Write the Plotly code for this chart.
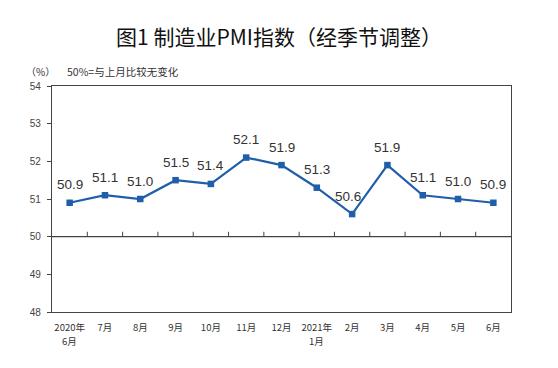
import plotly.graph_objects as go

months = ["2020年", "7月", "8月", "9月", "10月", "11月", "12月",
          "2021年", "2月", "3月", "4月", "5月", "6月"]
month_line2 = ["6月", "", "", "", "", "", "", "1月", "", "", "", "", ""]
pmi = [50.9, 51.1, 51.0, 51.5, 51.4, 52.1, 51.9, 51.3, 50.6, 51.9, 51.1, 51.0, 50.9]
label_xshift = [0, 0, 0, 0, 0, 0, 0, 0, -4, 0, 0, 0, 0]
y_ticks = [48, 49, 50, 51, 52, 53, 54]

LINE = "#1f5ea8"
AXIS = "#444444"
CJK = "Noto Sans CJK SC"

fig = go.Figure()
fig.add_trace(go.Scatter(
    x=list(range(len(months))), y=pmi,
    mode="lines+markers",
    line=dict(color=LINE, width=2.2),
    marker=dict(symbol="square", size=6.5, color=LINE),
    cliponaxis=False,
    hoverinfo="skip",
))

# baseline at 50 with inward ticks on category boundaries
fig.add_shape(type="line", xref="x", yref="y", x0=-0.5, x1=len(months) - 0.5,
              y0=50, y1=50, line=dict(color=AXIS, width=1.2))
for i in range(1, len(months)):
    fig.add_shape(type="line", xref="x", yref="y", x0=i - 0.5, x1=i - 0.5,
                  y0=50, y1=50.13, line=dict(color=AXIS, width=1))

annotations = [
    dict(x=i, y=v, xref="x", yref="y", text=f"{v:.1f}", showarrow=False,
         yshift=18, xshift=label_xshift[i], xanchor="center", yanchor="middle",
         font=dict(family="Liberation Sans, Arial", size=13.5, color="#333333"))
    for i, v in enumerate(pmi)
]
annotations += [
    dict(x=i, y=0, xref="x", yref="paper", text=t, showarrow=False,
         yshift=-29, xanchor="center", yanchor="middle",
         font=dict(family=CJK, size=9.5, color="#333333"))
    for i, t in enumerate(month_line2) if t
]
annotations += [
    dict(text="（%）", xref="paper", yref="paper", x=-0.062, y=1.062,
         xanchor="left", yanchor="middle", showarrow=False,
         font=dict(family=CJK, size=10, color="#333333")),
    dict(text="50%=与上月比较无变化", xref="paper", yref="paper", x=0.028, y=1.062,
         xanchor="left", yanchor="middle", showarrow=False,
         font=dict(family=CJK, size=10.5, color="#333333")),
]

fig.update_layout(
    width=558, height=368,
    margin=dict(l=52, r=47, t=86, b=56),
    paper_bgcolor="white", plot_bgcolor="white",
    showlegend=False,
    title=dict(text="图1 制造业PMI指数（经季节调整）", x=0.5, xanchor="center",
               y=1 - 37.5 / 368, yanchor="middle",
               font=dict(family=CJK, size=21, color="#111111")),
    xaxis=dict(
        range=[-0.5, len(months) - 0.5],
        tickmode="array", tickvals=list(range(len(months))), ticktext=months,
        ticks="", showgrid=False, zeroline=False, automargin=False,
        ticklabelstandoff=6,
        showline=True, mirror=True, linecolor=AXIS, linewidth=1.2,
        tickfont=dict(family=CJK, size=9.5, color="#333333"),
        fixedrange=True,
    ),
    yaxis=dict(
        range=[48, 54], tickvals=y_ticks, ticktext=[str(v) for v in y_ticks],
        ticks="outside", ticklen=4, tickcolor=AXIS, automargin=False,
        ticklabelstandoff=4,
        showgrid=False, zeroline=False,
        showline=True, mirror=True, linecolor=AXIS, linewidth=1.2,
        tickfont=dict(family="Liberation Sans, Arial", size=10, color="#444444"),
        fixedrange=True,
    ),
    annotations=annotations,
)

fig.write_html("out.html", config={"displayModeBar": False},
               post_script="document.body.style.margin='0';document.body.style.padding='0';")
